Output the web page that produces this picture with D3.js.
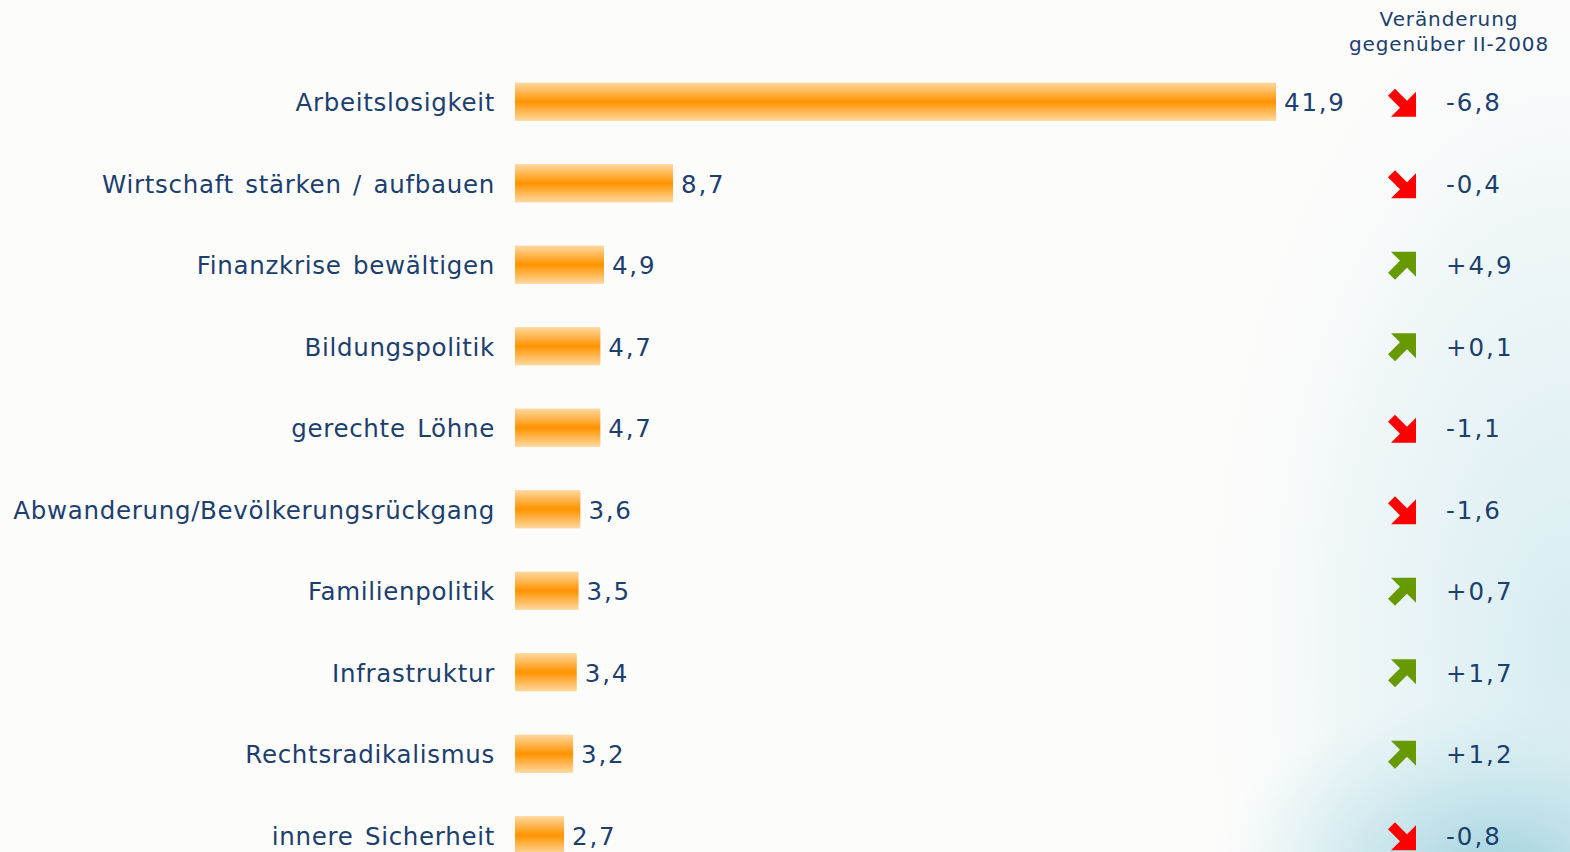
<!DOCTYPE html>
<html>
<head>
<meta charset="utf-8">
<script src="https://cdn.jsdelivr.net/npm/d3@7"></script>
<style>
  body { margin: 0; background: #fcfcfb; }
  svg { display: block; }
  text { font-family: "DejaVu Sans", Verdana, sans-serif; fill: #1c3f6d; }
</style>
</head>
<body>
<svg id="chart"></svg>
<script>
// data
var categories = ["Arbeitslosigkeit", "Wirtschaft stärken / aufbauen", "Finanzkrise bewältigen",
  "Bildungspolitik", "gerechte Löhne", "Abwanderung/Bevölkerungsrückgang", "Familienpolitik",
  "Infrastruktur", "Rechtsradikalismus", "innere Sicherheit"];
var values = [41.9, 8.7, 4.9, 4.7, 4.7, 3.6, 3.5, 3.4, 3.2, 2.7];
var changes = [-6.8, -0.4, 4.9, 0.1, -1.1, -1.6, 0.7, 1.7, 1.2, -0.8];
var headerLines = ["Veränderung", "gegenüber II-2008"];

const width = 1570, height = 852;
const fmt = v => v.toFixed(1).replace(".", ",");
const fmtChange = v => (v > 0 ? "+" : "") + fmt(v);

const svg = d3.select("#chart").attr("width", width).attr("height", height);
const defs = svg.append("defs");

// bar gradient
var bg = defs.append("linearGradient").attr("id", "barGrad")
  .attr("x1", 0).attr("y1", 0).attr("x2", 0).attr("y2", 1);
bg.append("stop").attr("offset", "0%").attr("stop-color", "#ffd9a0");
bg.append("stop").attr("offset", "50%").attr("stop-color", "#ff9300");
bg.append("stop").attr("offset", "100%").attr("stop-color", "#ffd9a0");

// background: wide faint tint on the right + stronger glow at the bottom
function glow(id, cx, cy, r, sx, sy, stops) {
  var g = defs.append("radialGradient").attr("id", id)
    .attr("gradientUnits", "userSpaceOnUse")
    .attr("cx", cx).attr("cy", cy).attr("r", r)
    .attr("gradientTransform", `translate(${cx},${cy}) scale(${sx},${sy}) translate(${-cx},${-cy})`);
  stops.forEach(s => g.append("stop").attr("offset", s[0]).attr("stop-color", s[1]).attr("stop-opacity", s[2]));
}
glow("wide", 1570, 650, 480, 0.8, 1.5, [["0%", "#d6ecf1", 1], ["60%", "#e9f4f6", 0.7], ["100%", "#fcfcfb", 0]]);
glow("spot", 1500, 870, 220, 1.3, 0.8, [["0%", "#a3d2de", 1], ["50%", "#c2e3ea", 0.7], ["100%", "#d6edf1", 0]]);

svg.append("rect").attr("width", width).attr("height", height).attr("fill", "#fcfcfb");
svg.append("rect").attr("width", width).attr("height", height).attr("fill", "url(#wide)");
svg.append("rect").attr("width", width).attr("height", height).attr("fill", "url(#spot)");

var x = d3.scaleLinear().domain([0, 41.9]).range([515, 1276]);
var y = d3.scaleBand().domain(categories).range([61, 61 + 81.5 * categories.length]).paddingInner(0.53).paddingOuter(0.265);

var rows = svg.selectAll("g.row").data(categories).enter().append("g").attr("class", "row");

rows.append("rect")
  .attr("x", x(0))
  .attr("y", d => y(d))
  .attr("width", (d, i) => x(values[i]) - x(0))
  .attr("height", y.bandwidth())
  .attr("fill", "url(#barGrad)");

rows.append("text")
  .attr("x", 495)
  .attr("y", d => y(d) + y.bandwidth() / 2)
  .attr("dy", "0.38em")
  .attr("text-anchor", "end")
  .attr("font-size", 24.5)
  .attr("letter-spacing", 0.7)
  .attr("word-spacing", 3)
  .text(d => d);

rows.append("text")
  .attr("x", (d, i) => x(values[i]) + 8)
  .attr("y", d => y(d) + y.bandwidth() / 2)
  .attr("dy", "0.38em")
  .attr("font-size", 24.5)
  .attr("letter-spacing", 1.8)
  .text((d, i) => fmt(values[i]));

// arrows
var downArrow = "M0,7 L7,0 L19,12 L28,3 L28,28 L3,28 L12,19 Z";
var upArrow = "M0,21 L7,28 L19,16 L28,25 L28,0 L3,0 L12,9 Z";
rows.append("path")
  .attr("transform", d => `translate(1388,${y(d) + y.bandwidth() / 2 - 13})`)
  .attr("d", (d, i) => changes[i] < 0 ? downArrow : upArrow)
  .attr("fill", (d, i) => changes[i] < 0 ? "#ff0000" : "#679a00");

rows.append("text")
  .attr("x", 1446)
  .attr("y", d => y(d) + y.bandwidth() / 2)
  .attr("dy", "0.38em")
  .attr("font-size", 24.5)
  .attr("letter-spacing", 2)
  .text((d, i) => fmtChange(changes[i]));

svg.append("g").selectAll("text").data(headerLines).enter().append("text")
  .attr("x", 1449)
  .attr("y", (d, i) => 26 + i * 25)
  .attr("text-anchor", "middle")
  .attr("font-size", 20)
  .attr("letter-spacing", 0.9)
  .text(d => d);
</script>
</body>
</html>
